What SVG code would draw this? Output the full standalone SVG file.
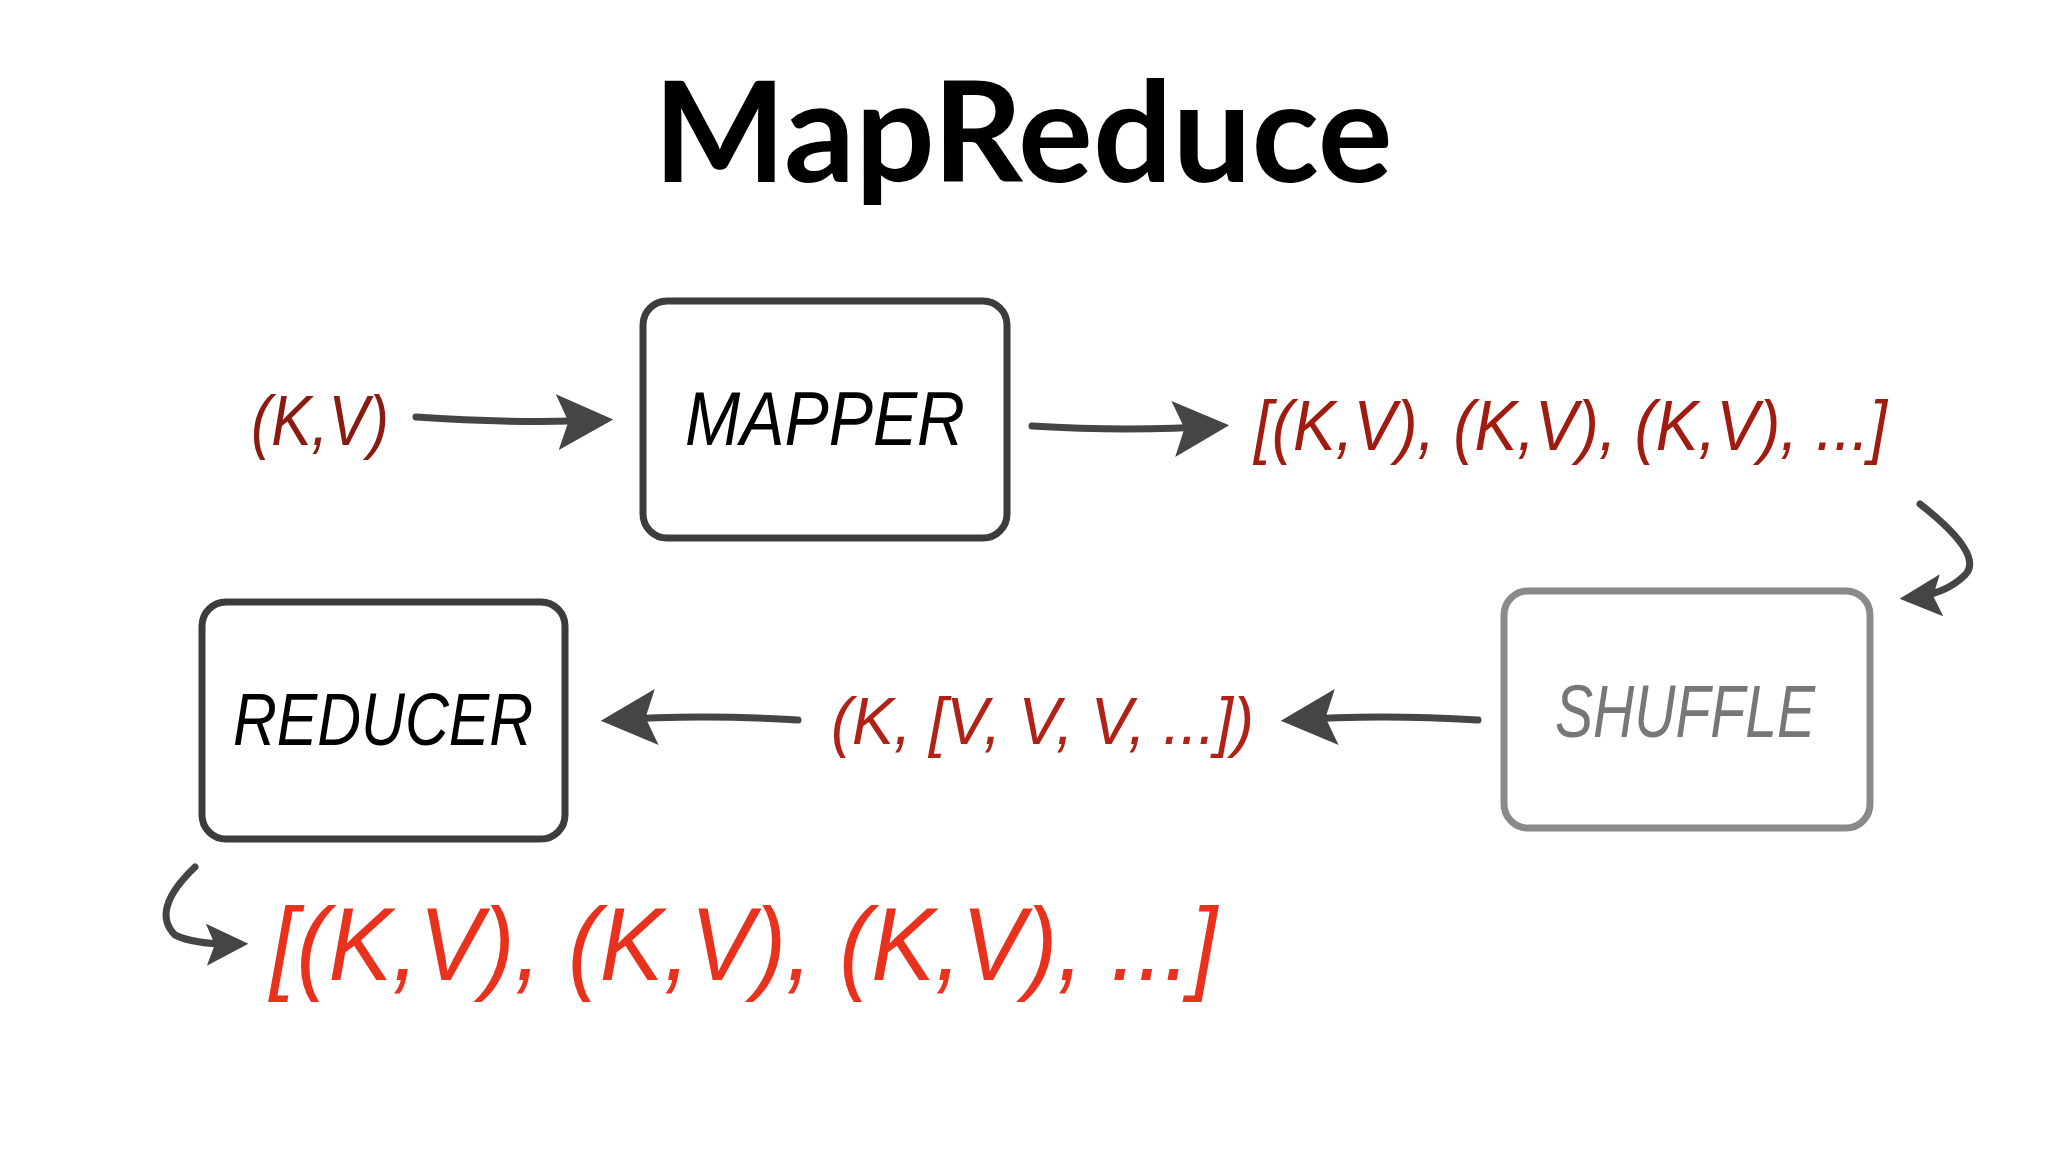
<svg xmlns="http://www.w3.org/2000/svg" width="2048" height="1152" viewBox="0 0 2048 1152">
<style>
.box{fill:#fff;stroke:#3c3c3c;stroke-width:7}
.hand{font-family:"Liberation Sans Narrow","Liberation Sans",sans-serif;font-style:italic}
.conn{fill:none;stroke:#454545;stroke-width:7;stroke-linecap:round}
</style>
<defs>
<marker id="ah" viewBox="0 0 10 10" refX="8" refY="5" markerWidth="8" markerHeight="8" orient="auto" markerUnits="strokeWidth">
<path d="M0,0 L10,5 L0,10 L2,5 Z" fill="#454545"/>
</marker>
<marker id="ahs" viewBox="0 0 10 10" refX="8" refY="5" markerWidth="6" markerHeight="6" orient="auto" markerUnits="strokeWidth">
<path d="M0,0 L10,5 L0,10 L2,5 Z" fill="#454545"/>
</marker>
</defs>
<rect width="2048" height="1152" fill="#fff"/>
<text x="1023" y="182" text-anchor="middle" font-family="Lato,'Open Sans',sans-serif" font-weight="bold" font-size="140" textLength="739" lengthAdjust="spacingAndGlyphs">MapReduce</text>
<g id="mapper"><rect class="box" x="643" y="301" width="364" height="237" rx="24"/>
<text class="hand" x="825" y="445" text-anchor="middle" font-size="76" textLength="280" lengthAdjust="spacingAndGlyphs">MAPPER</text></g>
<g id="reducer"><rect class="box" x="202" y="602" width="363" height="237" rx="24"/>
<text class="hand" x="383" y="745" text-anchor="middle" font-size="74" textLength="300" lengthAdjust="spacingAndGlyphs">REDUCER</text></g>
<g id="shuffle"><rect class="box" style="stroke:#8a8a8a" x="1504" y="591" width="366" height="237" rx="24"/>
<text class="hand" x="1685" y="737" text-anchor="middle" font-size="74" fill="#777" textLength="260" lengthAdjust="spacingAndGlyphs">SHUFFLE</text></g>
<g id="labels" class="hand">
<text x="251" y="445" font-size="70" fill="#8b1a10" textLength="138" lengthAdjust="spacingAndGlyphs">(K,V)</text>
<text x="1254" y="450" font-size="70" fill="#a01c10" textLength="633" lengthAdjust="spacingAndGlyphs">[(K,V), (K,V), (K,V), ...]</text>
<text x="831" y="744" font-size="66" fill="#b02216" textLength="423" lengthAdjust="spacingAndGlyphs">(K, [V, V, V, ...])</text>
<text x="270" y="980" font-size="104" fill="#e8321e" textLength="947" lengthAdjust="spacingAndGlyphs">[(K,V), (K,V), (K,V), ...]</text>
</g>
<g id="connectors">
<path class="conn" marker-end="url(#ah)" d="M416,417 Q520,424 602,420"/>
<path class="conn" marker-end="url(#ah)" d="M1032,426 Q1130,432 1218,426"/>
<path class="conn" marker-end="url(#ahs)" d="M1920,504 Q1985,555 1965,575 Q1945,595 1908,598"/>
<path class="conn" marker-end="url(#ah)" d="M1478,720 Q1380,714 1292,720"/>
<path class="conn" marker-end="url(#ah)" d="M798,720 Q700,714 612,720"/>
<path class="conn" marker-end="url(#ahs)" d="M195,867 Q150,910 175,935 Q195,945 240,944"/>
</g>
</svg>
